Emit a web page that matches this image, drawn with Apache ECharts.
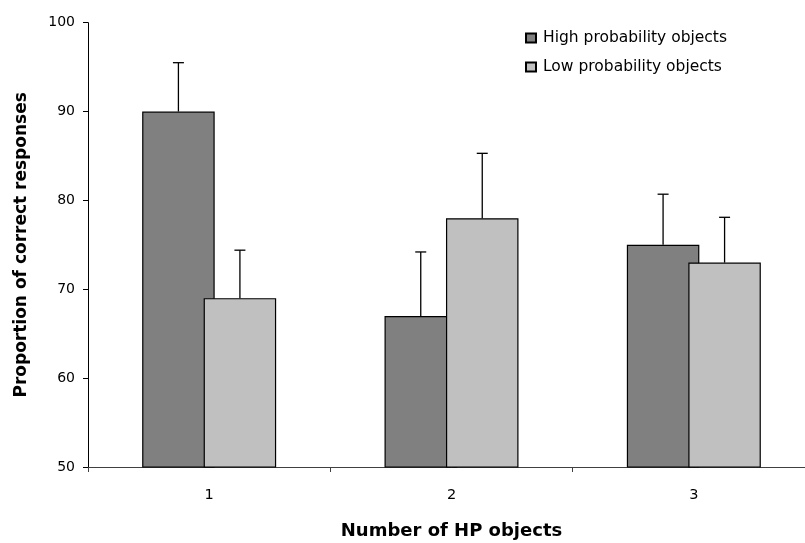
<!DOCTYPE html>
<html>
<head>
<meta charset="utf-8">
<script src="https://cdn.jsdelivr.net/npm/echarts@6/dist/echarts.min.js"></script>
<style>
html,body{margin:0;padding:0;background:#fff;overflow:hidden;width:805px;height:543px;}
#chart{width:815px;height:543px;}
</style>
</head>
<body>
<div id="chart"></div>
<script>
const categories = ['1', '2', '3'];
const highProb = [90, 67, 75];
const lowProb = [69, 78, 73];
const highErr = [5.5, 7.2, 5.7];
const lowErr = [5.4, 7.3, 5.1];
const seriesNames = ['High probability objects', 'Low probability objects'];
const yTicks = { min: 50, max: 100, interval: 10 };

const FONT = 'DejaVu Sans';
const BAR_W = 72.5;
const GAP_PX = -11;
const groupW = 2 * BAR_W + GAP_PX;
const offsets = [-groupW / 2 + BAR_W / 2, groupW / 2 - BAR_W / 2];

const chart = echarts.init(document.getElementById('chart'), null, { renderer: 'canvas' });

function errSeries(vals, errs, k) {
  return {
    type: 'custom',
    z: 5,
    silent: true,
    data: vals.map((v, i) => [i, v, errs[i]]),
    renderItem: function (params, api) {
      const i = api.value(0), v = api.value(1), e = api.value(2);
      const base = api.coord([i, v]);
      const top = api.coord([i, v + e]);
      const x = base[0] + offsets[k];
      const cap = 5.5;
      const st = { stroke: '#000', lineWidth: 1.3 };
      return {
        type: 'group',
        children: [
          { type: 'line', shape: { x1: x, y1: base[1], x2: x, y2: top[1] }, style: st },
          { type: 'line', shape: { x1: x - cap, y1: top[1], x2: x + cap, y2: top[1] }, style: st }
        ]
      };
    }
  };
}

chart.setOption({
  backgroundColor: '#ffffff',
  animation: false,
  textStyle: { fontFamily: FONT, color: '#000' },
  grid: { left: 88, top: 22.7, width: 727, height: 444.3, containLabel: false, outerBoundsMode: 'none' },
  legend: {
    orient: 'vertical',
    left: 525,
    top: 29,
    padding: 0,
    itemWidth: 10,
    itemHeight: 9,
    itemGap: 11,
    icon: 'rect',
    selectedMode: false,
    data: seriesNames,
    textStyle: { fontFamily: FONT, fontSize: 15.5, color: '#000', padding: [0, 0, 0, 2], lineHeight: 18 }
  },
  xAxis: {
    type: 'category',
    data: categories,
    boundaryGap: true,
    name: 'Number of HP objects',
    nameLocation: 'middle',
    nameGap: 55,
    nameTextStyle: { fontFamily: FONT, fontSize: 18, fontWeight: 'bold', color: '#000' },
    axisLine: { lineStyle: { color: '#404040', width: 1 } },
    axisTick: { show: true, length: 5, inside: false, lineStyle: { color: '#404040' } },
    axisLabel: { fontFamily: FONT, fontSize: 14.5, color: '#000', margin: 21 },
    splitLine: { show: false }
  },
  yAxis: {
    type: 'value',
    min: yTicks.min,
    max: yTicks.max,
    interval: yTicks.interval,
    name: 'Proportion of correct responses',
    nameLocation: 'middle',
    nameGap: 58,
    nameRotate: 90,
    nameTextStyle: { fontFamily: FONT, fontSize: 17, fontWeight: 'bold', color: '#000' },
    axisLine: { show: true, lineStyle: { color: '#000', width: 1 } },
    axisTick: { show: true, length: 5, inside: false, lineStyle: { color: '#000' } },
    axisLabel: { fontFamily: FONT, fontSize: 14, color: '#000', margin: 13 },
    splitLine: { show: false }
  },
  series: [
    {
      name: seriesNames[0],
      type: 'bar',
      data: highProb,
      barWidth: BAR_W,
      barGap: (GAP_PX / BAR_W * 100).toFixed(1) + '%',
      itemStyle: { color: '#808080', borderColor: '#000', borderWidth: 1.2 },
      z: 2
    },
    {
      name: seriesNames[1],
      type: 'bar',
      data: lowProb,
      barWidth: BAR_W,
      barGap: (GAP_PX / BAR_W * 100).toFixed(1) + '%',
      itemStyle: { color: '#C0C0C0', borderColor: '#000', borderWidth: 1.2 },
      z: 3
    },
    errSeries(highProb, highErr, 0),
    errSeries(lowProb, lowErr, 1)
  ]
});
</script>
</body>
</html>
